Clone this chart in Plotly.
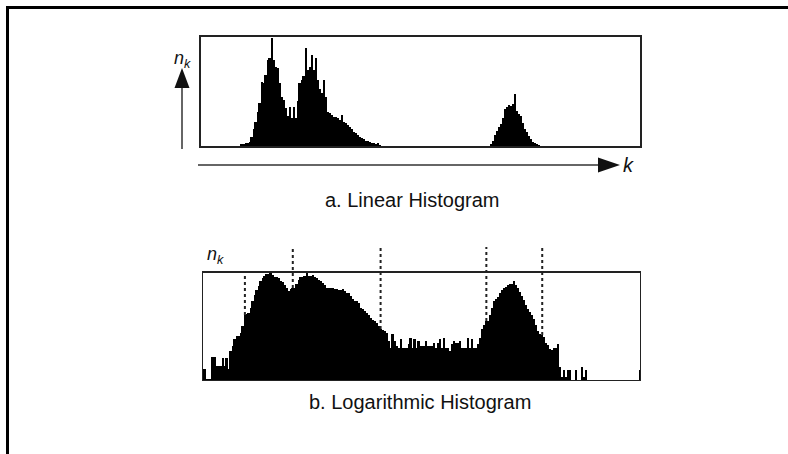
import plotly.graph_objects as go

W, H = 788, 454

# ---- data (bin index k = 0..219) ----
k_bins = list(range(220))

linear_counts = [
    0, 0, 0, 0, 0, 0, 0, 0, 0, 0,
    0, 0, 0, 0, 0, 0, 0, 0, 0, 0,
    2, 2, 3, 3, 4, 9, 17, 24, 34, 43,
    64, 63, 71, 86, 88, 108, 86, 79, 78, 63,
    49, 46, 38, 30, 39, 28, 39, 28, 45, 63,
    66, 70, 98, 76, 79, 91, 76, 88, 66, 57,
    53, 66, 49, 34, 33, 31, 29, 29, 28, 26,
    31, 24, 23, 21, 19, 17, 14, 13, 11, 9,
    8, 7, 5, 5, 4, 3, 3, 2, 3, 1,
    0, 0, 0, 0, 0, 0, 0, 0, 0, 0,
    0, 0, 0, 0, 0, 0, 0, 0, 0, 0,
    0, 0, 0, 0, 0, 0, 0, 0, 0, 0,
    0, 0, 0, 0, 0, 0, 0, 0, 0, 0,
    0, 0, 0, 0, 0, 0, 0, 0, 0, 0,
    0, 0, 0, 0, 0, 2, 5, 11, 15, 19,
    22, 28, 37, 39, 41, 40, 42, 52, 35, 32,
    30, 23, 17, 14, 10, 7, 4, 3, 2, 1,
    0, 0, 0, 0, 0, 0, 0, 0, 0, 0,
    0, 0, 0, 0, 0, 0, 0, 0, 0, 0,
    0, 0, 0, 0, 0, 0, 0, 0, 0, 0,
    0, 0, 0, 0, 0, 0, 0, 0, 0, 0,
    0, 0, 0, 0, 0, 0, 0, 0, 0, 0,
]

log_counts = [
    12, 12, 2, 2, 2, 24, 24, 15, 15, 15,
    23, 15, 23, 12, 30, 35, 42, 45, 45, 48,
    55, 66, 67, 68, 73, 80, 86, 91, 95, 100,
    103, 105, 107, 107, 108, 106, 104, 104, 103, 100,
    99, 96, 93, 90, 92, 93, 93, 97, 101, 104,
    104, 105, 108, 105, 105, 106, 104, 103, 101, 100,
    98, 96, 93, 93, 93, 93, 92, 92, 91, 91,
    92, 90, 88, 88, 85, 82, 80, 80, 78, 73,
    72, 70, 68, 66, 63, 61, 60, 58, 55, 52,
    51, 50, 48, 40, 33, 47, 40, 35, 33, 42,
    33, 33, 33, 37, 43, 33, 42, 33, 40, 35,
    35, 35, 40, 35, 35, 35, 38, 33, 38, 42,
    33, 43, 33, 33, 30, 37, 40, 38, 38, 40,
    33, 33, 33, 43, 33, 42, 33, 33, 37, 43,
    52, 56, 60, 60, 66, 73, 80, 82, 84, 88,
    91, 93, 94, 96, 97, 97, 100, 96, 93, 89,
    85, 81, 76, 72, 69, 66, 62, 56, 50, 47,
    46, 44, 38, 36, 32, 31, 33, 33, 37, 14,
    4, 11, 4, 11, 11, 0, 0, 11, 0, 0,
    14, 4, 11, 0, 0, 0, 0, 0, 0, 0,
    0, 0, 0, 0, 0, 0, 0, 0, 0, 0,
    0, 0, 0, 0, 0, 0, 0, 0, 0, 11,
]

threshold_k = [21, 45, 89, 142, 170]

caption_a = "a. Linear Histogram"
caption_b = "b. Logarithmic Histogram"
y_label = "<i>n</i><sub><i>k</i></sub>"
x_label = "<i>k</i>"


def px(x):
    return x / W


def py(y):
    return 1 - y / H


FONT = "Arial, 'Liberation Sans', Helvetica, sans-serif"
BOX_TOP = 109  # data units of the log-histogram frame height

fig = go.Figure()
fig.add_trace(go.Bar(x=k_bins, y=linear_counts, xaxis="x", yaxis="y",
                     marker=dict(color="black", line=dict(width=0)), width=1))
fig.add_trace(go.Bar(x=k_bins, y=log_counts, xaxis="x2", yaxis="y2",
                     marker=dict(color="black", line=dict(width=0)), width=1))

ax_common = dict(showgrid=False, zeroline=False, showticklabels=False, ticks="",
                 fixedrange=True)

shapes = []
# outer frame (top and left lines)
shapes.append(dict(type="line", xref="paper", yref="paper", x0=px(6), x1=px(790),
                   y0=py(7.5), y1=py(7.5), line=dict(color="black", width=3)))
shapes.append(dict(type="line", xref="paper", yref="paper", x0=px(7.5), x1=px(7.5),
                   y0=py(6), y1=py(454), line=dict(color="black", width=3)))
# vertical arrow (n_k)
shapes.append(dict(type="line", xref="paper", yref="paper", x0=px(182), x1=px(182),
                   y0=py(149), y1=py(86), line=dict(color="#333", width=1.5)))
shapes.append(dict(type="path", xref="paper", yref="paper",
                   path=f"M {px(174.5)} {py(88)} L {px(189.5)} {py(88)} L {px(182)} {py(68)} Z",
                   fillcolor="#111", line=dict(width=0)))
# horizontal arrow (k)
shapes.append(dict(type="line", xref="paper", yref="paper", x0=px(198), x1=px(600),
                   y0=py(165), y1=py(165), line=dict(color="#333", width=1.5)))
shapes.append(dict(type="path", xref="paper", yref="paper",
                   path=f"M {px(598)} {py(157.5)} L {px(598)} {py(172.5)} L {px(620)} {py(165)} Z",
                   fillcolor="#111", line=dict(width=0)))
# log histogram frame
shapes.append(dict(type="rect", xref="x2", yref="y2", x0=-0.5, x1=219.5, y0=0, y1=BOX_TOP,
                   line=dict(color="#222", width=2), fillcolor="rgba(0,0,0,0)", layer="above"))
# dotted threshold lines
for i, kk in enumerate(threshold_k):
    top = BOX_TOP if i == 0 else 134
    shapes.append(dict(type="line", xref="x2", yref="y2", x0=kk, x1=kk,
                       y0=log_counts[kk], y1=top,
                       line=dict(color="#222", width=2, dash="dot"), layer="above"))

annotations = [
    dict(text=y_label, xref="paper", yref="paper", x=px(172), y=py(46), showarrow=False,
         font=dict(family=FONT, size=18, color="#111")),
    dict(text=x_label, xref="paper", yref="paper", x=px(636), y=py(165), showarrow=False,
         font=dict(family=FONT, size=20, color="#111")),
    dict(text=caption_a, xref="paper", yref="paper", x=px(412), y=py(200), showarrow=False,
         font=dict(family=FONT, size=20, color="#111")),
    dict(text=y_label, xref="paper", yref="paper", x=px(205), y=py(255), showarrow=False,
         font=dict(family=FONT, size=18, color="#111")),
    dict(text=caption_b, xref="paper", yref="paper", x=px(420), y=py(415), showarrow=False,
         font=dict(family=FONT, size=20, color="#111")),
]

fig.update_layout(
    width=W, height=H, margin=dict(l=0, r=0, t=0, b=0),
    paper_bgcolor="white", plot_bgcolor="white", showlegend=False, bargap=0,
    xaxis=dict(domain=[px(201), px(640)], range=[-0.5, 219.5], anchor="y",
               showline=True, mirror=True, linecolor="#222", linewidth=2, **ax_common),
    yaxis=dict(domain=[py(146), py(37)], range=[0, 109], anchor="x",
               showline=True, mirror=True, linecolor="#222", linewidth=2, **ax_common),
    xaxis2=dict(domain=[px(202), px(641)], range=[-0.5, 219.5], anchor="y2",
                showline=False, **ax_common),
    yaxis2=dict(domain=[py(381), py(246)], range=[0, 135], anchor="x2",
                showline=False, **ax_common),
    shapes=shapes, annotations=annotations,
)

fig.write_html("out.html")
